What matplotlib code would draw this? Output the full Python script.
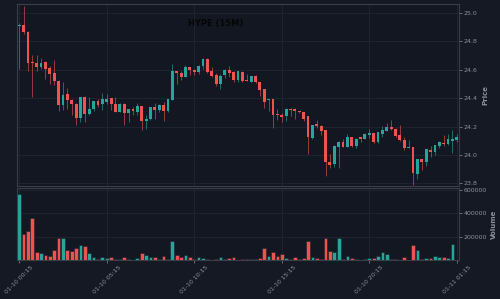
import matplotlib
matplotlib.use("Agg")
import matplotlib.pyplot as plt
from matplotlib.ticker import FixedLocator, FuncFormatter
import pandas as pd

# 15 minute candles, 2025-01-10 00:15 .. 2025-01-11 01:15
times = pd.date_range("2025-01-10 00:15", periods=101, freq="15min")

opens = [
    24.904, 24.913, 24.866, 24.655, 24.650, 24.617, 24.653, 24.610, 24.578, 24.521,
    24.352, 24.427, 24.387, 24.362, 24.263, 24.406, 24.287, 24.322, 24.378, 24.357,
    24.376, 24.399, 24.359, 24.303, 24.359, 24.298, 24.322, 24.305, 24.345, 24.237,
    24.254, 24.336, 24.317, 24.350, 24.310, 24.390, 24.589, 24.580, 24.552, 24.617,
    24.599, 24.585, 24.624, 24.678, 24.592, 24.563, 24.502, 24.561, 24.601, 24.587,
    24.528, 24.587, 24.528, 24.516, 24.554, 24.516, 24.462, 24.385, 24.394, 24.289,
    24.284, 24.273, 24.326, 24.322, 24.310, 24.301, 24.273, 24.118, 24.216, 24.207,
    24.176, 23.951, 23.934, 24.059, 24.094, 24.059, 24.129, 24.066, 24.125, 24.113,
    24.143, 24.153, 24.089, 24.148, 24.169, 24.200, 24.186, 24.141, 24.106, 24.052,
    24.059, 23.869, 23.969, 23.953, 24.035, 24.024, 24.064, 24.087, 24.078, 24.101,
    24.106]
highs = [
    24.932, 25.049, 24.870, 24.704, 24.704, 24.681, 24.662, 24.627, 24.669, 24.525,
    24.512, 24.474, 24.395, 24.364, 24.406, 24.413, 24.406, 24.380, 24.397, 24.434,
    24.427, 24.401, 24.411, 24.364, 24.369, 24.326, 24.336, 24.364, 24.345, 24.280,
    24.340, 24.369, 24.357, 24.373, 24.397, 24.639, 24.592, 24.594, 24.636, 24.622,
    24.603, 24.634, 24.683, 24.681, 24.620, 24.580, 24.570, 24.606, 24.629, 24.592,
    24.592, 24.592, 24.570, 24.556, 24.563, 24.516, 24.462, 24.394, 24.394, 24.322,
    24.294, 24.329, 24.331, 24.329, 24.312, 24.305, 24.273, 24.209, 24.247, 24.209,
    24.176, 24.007, 24.068, 24.096, 24.110, 24.146, 24.129, 24.120, 24.129, 24.153,
    24.181, 24.157, 24.164, 24.204, 24.228, 24.247, 24.193, 24.211, 24.129, 24.106,
    24.059, 23.974, 23.974, 24.040, 24.064, 24.073, 24.101, 24.141, 24.148, 24.176,
    24.146]
lows = [
    24.606, 24.850, 24.594, 24.406, 24.592, 24.606, 24.535, 24.498, 24.493, 24.312,
    24.317, 24.324, 24.282, 24.211, 24.230, 24.235, 24.280, 24.310, 24.336, 24.317,
    24.357, 24.317, 24.303, 24.301, 24.214, 24.230, 24.280, 24.282, 24.178, 24.181,
    24.247, 24.254, 24.301, 24.240, 24.301, 24.385, 24.498, 24.528, 24.547, 24.563,
    24.563, 24.570, 24.603, 24.580, 24.547, 24.486, 24.462, 24.545, 24.549, 24.512,
    24.516, 24.516, 24.517, 24.514, 24.505, 24.418, 24.333, 24.312, 24.193, 24.247,
    24.233, 24.242, 24.275, 24.256, 24.294, 24.237, 24.007, 24.110, 24.188, 24.141,
    23.855, 23.911, 23.918, 23.909, 24.054, 24.054, 24.059, 24.052, 24.094, 24.113,
    24.118, 24.082, 24.082, 24.125, 24.167, 24.176, 24.129, 24.099, 24.035, 24.047,
    23.789, 23.831, 23.894, 23.925, 23.988, 24.000, 24.047, 24.066, 24.071, 24.016,
    24.094]
closes = [
    24.913, 24.866, 24.646, 24.646, 24.622, 24.648, 24.606, 24.570, 24.521, 24.352,
    24.423, 24.387, 24.357, 24.263, 24.406, 24.287, 24.326, 24.378, 24.350, 24.392,
    24.397, 24.359, 24.303, 24.359, 24.298, 24.322, 24.308, 24.345, 24.240, 24.254,
    24.336, 24.315, 24.350, 24.310, 24.392, 24.592, 24.575, 24.547, 24.620, 24.599,
    24.585, 24.629, 24.678, 24.587, 24.556, 24.502, 24.556, 24.601, 24.580, 24.528,
    24.592, 24.523, 24.519, 24.554, 24.512, 24.458, 24.373, 24.394, 24.284, 24.282,
    24.270, 24.324, 24.317, 24.310, 24.303, 24.251, 24.129, 24.209, 24.204, 24.171,
    23.948, 23.930, 24.064, 24.094, 24.059, 24.129, 24.066, 24.115, 24.110, 24.148,
    24.157, 24.089, 24.160, 24.176, 24.200, 24.183, 24.136, 24.106, 24.047, 24.059,
    23.871, 23.974, 23.953, 24.040, 24.024, 24.068, 24.094, 24.078, 24.110, 24.110,
    24.129]
volumes = [
    566000, 220000, 251000, 363000, 69000, 57000, 46000, 37000, 91000, 194000,
    186000, 83000, 80000, 108000, 129000, 117000, 63000, 23000, 6000, 23000,
    17000, 23000, 9000, 6000, 31000, 9000, 3000, 17000, 63000, 45000,
    31000, 26000, 11000, 34000, 9000, 160000, 42000, 26000, 40000, 23000,
    9000, 26000, 20000, 11000, 3000, 6000, 23000, 11000, 20000, 29000,
    3000, 6000, 9000, 11000, 11000, 22000, 100000, 36000, 72000, 36000,
    51000, 14000, 9000, 29000, 9000, 14000, 160000, 23000, 20000, 11000,
    194000, 82000, 66000, 192000, 11000, 34000, 17000, 9000, 3000, 6000,
    17000, 15000, 34000, 66000, 54000, 11000, 9000, 5000, 29000, 3000,
    129000, 91000, 6000, 14000, 14000, 34000, 23000, 27000, 17000, 140000,
    4000]

tick_labels = ["01-10 00:15", "01-10 05:15", "01-10 10:15",
               "01-10 15:15", "01-10 20:15", "01-11 01:15"]

UP = "#26a69a"
DOWN = "#ef5350"
BG = "#131722"
FIG_BG = "#151924"
GRID = "#222632"
SPINE = "#3a3e4a"
TXT = "#8c909b"

x = list(range(len(times)))
colors = [UP if c >= o else DOWN for o, c in zip(opens, closes)]

fig = plt.figure(figsize=(5.0, 2.99), dpi=100, facecolor=FIG_BG)
ax = fig.add_axes([0.034, 0.378, 0.884, 0.609])
axv = fig.add_axes([0.034, 0.130, 0.884, 0.241], sharex=ax)

for a in (ax, axv):
    a.set_facecolor(BG)
    for s in a.spines.values():
        s.set_color(SPINE)
        s.set_linewidth(0.8)
    a.yaxis.tick_right()
    a.yaxis.set_label_position("right")
    a.grid(True, color=GRID, linewidth=0.6)
    a.set_axisbelow(True)
    a.tick_params(colors=TXT, labelsize=4.5, length=2, width=0.5, pad=1.5)

# candles: thin dim wicks, then bodies on top
ax.vlines(x, lows, highs, colors=colors, linewidth=0.6, alpha=0.7)
bottoms = [min(o, c) for o, c in zip(opens, closes)]
heights = [max(abs(c - o), 0.002) for o, c in zip(opens, closes)]
ax.bar(x, heights, bottom=bottoms, width=0.65, color=colors, linewidth=0)

ax.set_xlim(-0.5, len(times) - 0.5)
ax.set_ylim(23.782, 25.063)
ax.yaxis.set_major_locator(FixedLocator([23.8, 24.0, 24.2, 24.4, 24.6, 24.8, 25.0]))
ax.yaxis.set_major_formatter(FuncFormatter(lambda v, p: f"{v:.1f}"))
ax.set_ylabel("Price", color=TXT, fontsize=5, fontweight="bold", labelpad=3)
ax.tick_params(axis="x", labelbottom=False, length=0)

# volume
axv.bar(x, volumes, width=0.85, color=colors, edgecolor="#1a1e2a", linewidth=0.4)
axv.set_ylim(0, 618000)
axv.yaxis.set_major_locator(FixedLocator([200000, 400000, 600000]))
axv.yaxis.set_major_formatter(FuncFormatter(lambda v, p: f"{int(v)}"))
axv.set_ylabel("Volume", color=TXT, fontsize=5, fontweight="bold", labelpad=3)

labels_fmt = [t.strftime("%m-%d %H:%M") for t in times]
tick_pos = [labels_fmt.index(lab) for lab in tick_labels]
axv.set_xticks(tick_pos)
axv.set_xticklabels(tick_labels, rotation=45)

fig.text(0.432, 0.921, "HYPE (15M)", color="#050505", fontsize=6,
         fontweight="bold", ha="center", va="center")

fig.savefig("out.png", dpi=100, facecolor=FIG_BG)
